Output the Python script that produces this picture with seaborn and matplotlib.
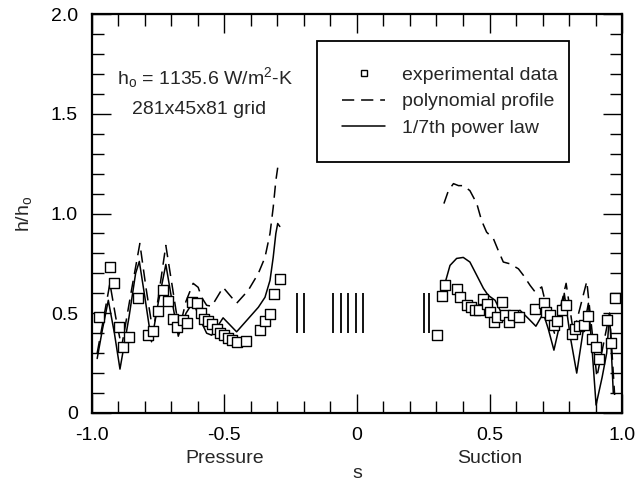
import seaborn as sns
import matplotlib.pyplot as plt
import matplotlib.ticker as mticker
from matplotlib.lines import Line2D
import pandas as pd

# experimental data (squares)
exp_s = [-0.972, -0.932, -0.916, -0.897, -0.882, -0.859, -0.825, -0.788, -0.769, -0.750,
         -0.731, -0.714, -0.695, -0.678, -0.658, -0.640, -0.624, -0.605, -0.588, -0.578,
         -0.562, -0.546, -0.529, -0.516, -0.501, -0.486, -0.470, -0.454, -0.420, -0.366,
         -0.347, -0.328, -0.312, -0.291,
         0.303, 0.320, 0.332, 0.376, 0.389, 0.414, 0.429, 0.445, 0.462, 0.474,
         0.489, 0.502, 0.518, 0.527, 0.546, 0.558, 0.575, 0.590, 0.611, 0.672,
         0.704, 0.715, 0.728, 0.743, 0.756, 0.772, 0.787, 0.810, 0.823, 0.838,
         0.856, 0.873, 0.886, 0.902, 0.914, 0.942, 0.959, 0.973]
exp_h = [0.48, 0.73, 0.65, 0.43, 0.33, 0.38, 0.575, 0.39, 0.41, 0.51,
         0.615, 0.56, 0.47, 0.43, 0.465, 0.45, 0.555, 0.55, 0.50, 0.47,
         0.46, 0.445, 0.42, 0.40, 0.39, 0.378, 0.368, 0.357, 0.362, 0.415,
         0.462, 0.495, 0.595, 0.673,
         0.39, 0.585, 0.643, 0.62, 0.58, 0.54, 0.53, 0.515, 0.515, 0.573,
         0.548, 0.507, 0.457, 0.48, 0.557, 0.49, 0.457, 0.49, 0.48, 0.522,
         0.552, 0.505, 0.492, 0.44, 0.46, 0.515, 0.54, 0.398, 0.42, 0.435,
         0.44, 0.485, 0.373, 0.332, 0.273, 0.468, 0.35, 0.575]

# 1/7th power law, pressure side and suction side
pow_s_p = [-0.980, -0.960, -0.938, -0.915, -0.894, -0.860, -0.835, -0.821, -0.800, -0.775,
           -0.750, -0.721, -0.700, -0.674, -0.645, -0.618, -0.592, -0.567, -0.548, -0.505,
           -0.454, -0.410, -0.372, -0.347, -0.328, -0.316, -0.306, -0.299, -0.291]
pow_h_p = [0.273, 0.42, 0.565, 0.40, 0.22, 0.48, 0.70, 0.76, 0.58, 0.357,
           0.55, 0.745, 0.58, 0.385, 0.50, 0.557, 0.47, 0.40, 0.39, 0.477,
           0.407, 0.473, 0.53, 0.58, 0.665, 0.78, 0.90, 0.95, 0.935]
pow_s_s = [0.332, 0.351, 0.376, 0.401, 0.426, 0.452, 0.477, 0.495, 0.521, 0.540,
           0.552, 0.590, 0.615, 0.647, 0.675, 0.703, 0.722, 0.743, 0.766, 0.782,
           0.805, 0.829, 0.852, 0.873, 0.888, 0.902, 0.925, 0.942, 0.953, 0.967]
pow_h_s = [0.65, 0.74, 0.775, 0.78, 0.757, 0.69, 0.625, 0.59, 0.565, 0.515,
           0.48, 0.50, 0.515, 0.473, 0.435, 0.50, 0.42, 0.315, 0.45, 0.60,
           0.38, 0.20, 0.40, 0.55, 0.30, 0.04, 0.18, 0.30, 0.50, 0.10]

# polynomial profile, pressure side and suction side
poly_s_p = [-0.980, -0.955, -0.932, -0.910, -0.888, -0.850, -0.819, -0.795, -0.769, -0.745,
            -0.721, -0.695, -0.671, -0.645, -0.618, -0.599, -0.586, -0.567, -0.548, -0.505,
            -0.454, -0.410, -0.372, -0.347, -0.328, -0.316, -0.306, -0.299]
poly_h_p = [0.30, 0.48, 0.65, 0.48, 0.33, 0.62, 0.85, 0.62, 0.40, 0.62,
            0.84, 0.62, 0.415, 0.56, 0.65, 0.63, 0.58, 0.54, 0.535, 0.63,
            0.55, 0.615, 0.70, 0.78, 0.90, 1.03, 1.165, 1.23]
poly_s_s = [0.328, 0.345, 0.364, 0.383, 0.401, 0.426, 0.452, 0.470, 0.489, 0.515,
            0.533, 0.552, 0.577, 0.609, 0.628, 0.653, 0.672, 0.697, 0.709, 0.745,
            0.789, 0.817, 0.867, 0.905, 0.953, 0.972]
poly_h_s = [1.05, 1.115, 1.15, 1.14, 1.14, 1.115, 1.05, 0.965, 0.907, 0.873,
            0.815, 0.757, 0.748, 0.723, 0.69, 0.64, 0.607, 0.632, 0.565, 0.40,
            0.65, 0.40, 0.66, 0.18, 0.50, 0.09]

# grid block boundaries
block_s = [-0.228, -0.200, -0.089, -0.060, -0.033, -0.004, 0.021, 0.253, 0.272]
block_lo, block_hi = 0.4, 0.6

sns.set_style('ticks')
plt.rcParams['font.family'] = ['Liberation Sans', 'DejaVu Sans']
plt.rcParams['mathtext.default'] = 'regular'
plt.rcParams['font.size'] = 14
fs = 14

fig = plt.figure(figsize=(6.38, 4.87), dpi=100)
ax = fig.add_axes([0.144, 0.152, 0.831, 0.819])

exp_df = pd.DataFrame({'s': exp_s, 'h': exp_h})
sns.scatterplot(data=exp_df, x='s', y='h', marker='s', s=42, facecolor='white',
                edgecolor='black', linewidth=1.0, ax=ax, zorder=3)

for xs, ys in [(pow_s_p, pow_h_p), (pow_s_s, pow_h_s)]:
    sns.lineplot(x=xs, y=ys, color='black', lw=1.1, estimator=None, sort=False, ax=ax)
for xs, ys in [(poly_s_p, poly_h_p), (poly_s_s, poly_h_s)]:
    sns.lineplot(x=xs, y=ys, color='black', lw=1.1, estimator=None, sort=False, ax=ax)
for l in ax.get_lines()[2:]:
    l.set_dashes((8, 4.5))

ax.vlines(block_s, block_lo, block_hi, color='black', lw=1.3)

ax.set_xlim(-1, 1)
ax.set_ylim(0, 2)
ax.xaxis.set_major_locator(mticker.FixedLocator([-1, -0.5, 0, 0.5, 1]))
ax.xaxis.set_minor_locator(mticker.MultipleLocator(0.1))
ax.yaxis.set_major_locator(mticker.FixedLocator([0, 0.5, 1, 1.5, 2]))
ax.yaxis.set_minor_locator(mticker.MultipleLocator(0.1))
ax.set_xticklabels(['-1.0', '-0.5', '0', '0.5', '1.0'])
ax.set_yticklabels(['0', '0.5', '1.0', '1.5', '2.0'])
ax.tick_params(which='both', direction='in', top=True, right=True, width=1.0,
               labelsize=fs, colors='black')
ax.tick_params(axis='y', pad=10)
ax.tick_params(axis='x', pad=10)
ax.tick_params(which='major', length=14)
ax.tick_params(which='minor', length=8.5)
for sp in ax.spines.values():
    sp.set_linewidth(1.6)
    sp.set_color('black')

ax.set_xlabel('s', fontsize=fs, labelpad=15)
ax.set_ylabel('h/h$_o$', fontsize=fs, labelpad=12)

trans = ax.get_xaxis_transform()
ax.text(-0.5, -0.115, 'Pressure', transform=trans, ha='center', va='center', fontsize=fs)
ax.text(0.5, -0.115, 'Suction', transform=trans, ha='center', va='center', fontsize=fs)

ax.text(-0.905, 1.68, 'h$_o$ = 1135.6 W/m$^2$-K', ha='left', va='center', fontsize=fs)
ax.text(-0.85, 1.52, '281x45x81 grid', ha='left', va='center', fontsize=fs)

handles = [
    Line2D([], [], ls='none', marker='s', markersize=5, markerfacecolor='white',
           markeredgecolor='black', markeredgewidth=1.0),
    Line2D([], [], color='black', lw=1.1, dashes=(8, 4.5)),
    Line2D([], [], color='black', lw=1.1),
]
labels = ['experimental data', 'polynomial profile', '1/7th power law']
leg = ax.legend(handles, labels, loc='upper left', bbox_to_anchor=(0.425, 0.637, 0.475, 0.295),
                mode='expand', frameon=True, fancybox=False, edgecolor='black', framealpha=1,
                borderpad=1.3, handlelength=2.2, handletextpad=0.86, labelspacing=0.45,
                fontsize=fs, borderaxespad=0)
leg.get_frame().set_linewidth(1.3)

fig.savefig('out.png', dpi=100)
